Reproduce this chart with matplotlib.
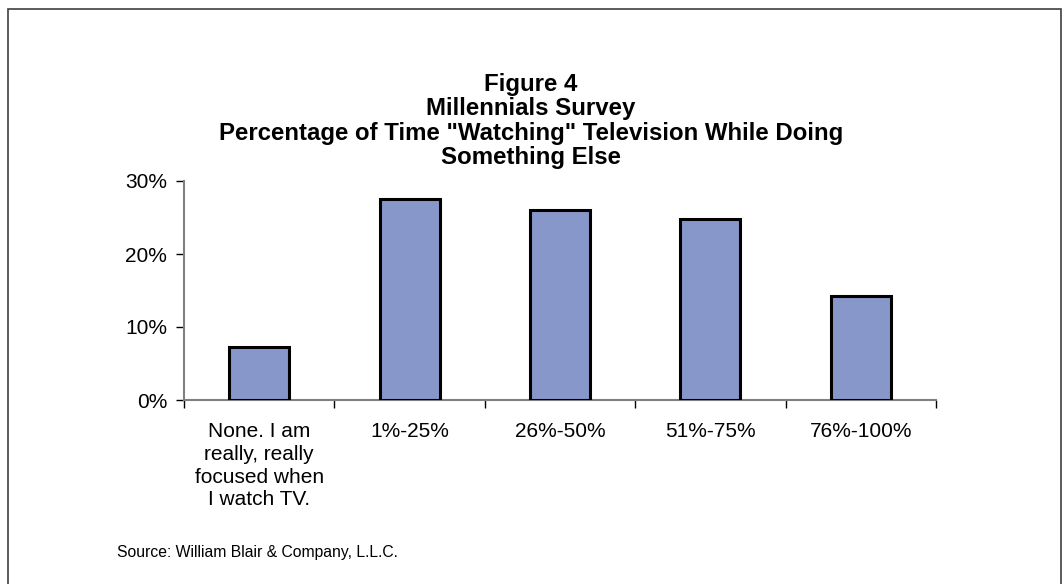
import matplotlib.pyplot as plt
import matplotlib.patches as patches
from matplotlib.ticker import FixedLocator, FuncFormatter

plt.rcParams['font.family'] = ['Liberation Sans', 'DejaVu Sans']

# survey answers and share of respondents (%)
categories = ['None. I am\nreally, really\nfocused when\nI watch TV.',
              '1%-25%', '26%-50%', '51%-75%', '76%-100%']
shares = [7.3, 27.6, 26.0, 24.75, 14.3]
y_ticks = [0, 10, 20, 30]

fig = plt.figure(figsize=(10.62, 5.84), dpi=100)
ax = fig.add_axes([184 / 1062, 1 - 400 / 584, (936 - 184) / 1062, (400 - 181) / 584])

x = range(len(categories))
ax.bar(x, shares, width=0.4, color='#8797c9', edgecolor='black', linewidth=2.2, zorder=3)

ax.set_xlim(-0.5, len(categories) - 0.5)
ax.set_ylim(0, 30)
ax.yaxis.set_major_locator(FixedLocator(y_ticks))
ax.yaxis.set_major_formatter(FuncFormatter(lambda v, p: f'{v:.0f}%'))

# tick marks sit between the categories, labels under the bar centres
ax.set_xticks([i - 0.5 for i in range(len(categories) + 1)])
ax.set_xticklabels([])
ax.set_xticks(list(x), minor=True)
ax.set_xticklabels(categories, minor=True, linespacing=1.25)
ax.tick_params(axis='x', which='major', direction='out', length=6, width=1, color='black')
ax.tick_params(axis='x', which='minor', length=0, pad=16, labelsize=15)
ax.tick_params(axis='y', direction='out', length=6, width=1, color='black', labelsize=15, pad=6)

for side in ('top', 'right'):
    ax.spines[side].set_visible(False)
for side in ('left', 'bottom'):
    ax.spines[side].set_color('#808080')
    ax.spines[side].set_linewidth(1.5)

fig.text(0.5, 1 - 121 / 584, 'Figure 4\nMillennials Survey\n'
         'Percentage of Time "Watching" Television While Doing\nSomething Else',
         ha='center', va='center', fontsize=17.3, fontweight='bold', linespacing=1.07)

fig.text(117 / 1062, 1 - 552 / 584, 'Source: William Blair & Company, L.L.C.',
         ha='left', va='center', fontsize=11.3)

# outer frame round the figure
fig.patches.append(patches.Rectangle((8 / 1062, -0.05), (1061 - 8) / 1062, 1.05 - 9 / 584,
                                     transform=fig.transFigure, fill=False,
                                     edgecolor='#404040', linewidth=1.2, clip_on=False))

fig.savefig('out.png', dpi=100)
